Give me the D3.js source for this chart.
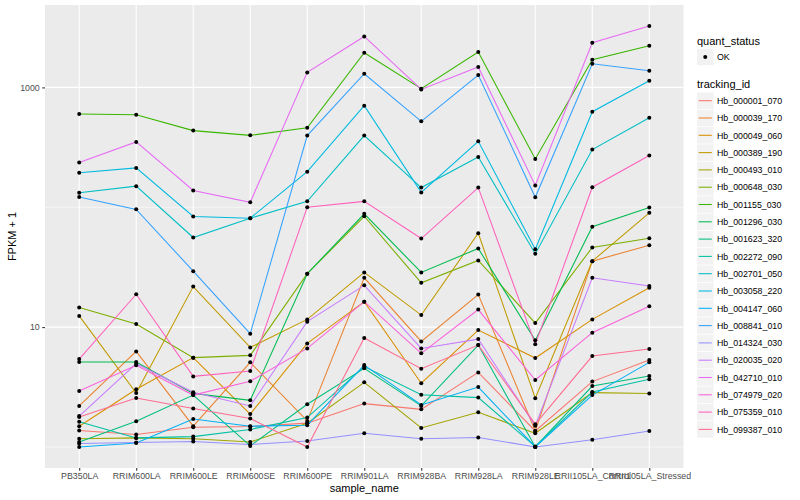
<!DOCTYPE html>
<html>
<head>
<meta charset="utf-8">
<script src="https://cdn.jsdelivr.net/npm/d3@7.9.0/dist/d3.min.js"></script>
<style>
  body { margin: 0; background: #fff; }
  text { font-family: "Liberation Sans", Arial, Helvetica, sans-serif; }
</style>
</head>
<body>
<svg id="chart" width="800" height="500"></svg>
<script>
// samples on the x axis
const samples = ["PB350LA", "RRIM600LA", "RRIM600LE", "RRIM600SE", "RRIM600PE", "RRIM901LA",
  "RRIM928BA", "RRIM928LA", "RRIM928LE", "RRII105LA_Control", "RRII105LA_Stressed"];

const trackingIds = ["Hb_000001_070", "Hb_000039_170", "Hb_000049_060", "Hb_000389_190",
  "Hb_000493_010", "Hb_000648_030", "Hb_001155_030", "Hb_001296_030", "Hb_001623_320",
  "Hb_002272_090", "Hb_002701_050", "Hb_003058_220", "Hb_004147_060", "Hb_008841_010",
  "Hb_014324_030", "Hb_020035_020", "Hb_042710_010", "Hb_074979_020", "Hb_075359_010",
  "Hb_099387_010"];

// FPKM + 1, one array per gene, in sample order
const hb_000001_070 = [1.37, 1.27, 1.46, 1.48, 1.58, 2.30, 2.06, 4.19, 1.36, 3.51, 5.31];
const hb_000039_170 = [2.20, 6.27, 1.49, 5.08, 1.65, 25.8, 7.60, 18.7, 1.36, 35.5, 48.2];
const hb_000049_060 = [1.49, 3.03, 5.56, 1.88, 7.31, 16.3, 3.40, 9.44, 5.52, 11.6, 21.3];
const hb_000389_190 = [12.4, 2.82, 21.8, 6.77, 11.6, 28.6, 12.6, 60.7, 2.55, 35.5, 89.8];
const hb_000493_010 = [1.17, 1.19, 1.17, 1.10, 1.58, 3.46, 1.44, 1.95, 1.30, 2.84, 2.79];
const hb_000648_030 = [14.6, 10.6, 5.56, 5.81, 27.9, 84.1, 23.4, 36.0, 10.8, 46.2, 55.2];
const hb_001155_030 = [600, 592, 436, 398, 461, 1945, 975, 1972, 253, 1702, 2226];
const hb_001296_030 = [5.11, 5.11, 2.80, 2.45, 27.9, 88.1, 28.6, 45.3, 7.75, 68.7, 99.4];
const hb_001623_320 = [1.10, 1.64, 2.71, 1.02, 2.27, 4.53, 2.20, 7.08, 1.00, 3.22, 3.91];
const hb_002272_090 = [1.62, 1.19, 1.22, 1.40, 1.76, 4.68, 2.73, 2.58, 1.01, 2.87, 3.67];
const hb_002701_050 = [132, 150, 55.9, 81, 112, 396, 146, 263, 40.9, 303, 559];
const hb_003058_220 = [194, 213, 83.7, 81, 198, 704, 133, 355, 44.7, 627, 1137];
const hb_004147_060 = [1.00, 1.08, 1.71, 1.49, 1.52, 4.82, 2.24, 3.16, 1.00, 2.71, 5.08];
const hb_008841_010 = [122, 96, 29.3, 8.81, 396, 1300, 521, 1268, 121, 1576, 1377];
const hb_014324_030 = [1.07, 1.09, 1.11, 1.05, 1.12, 1.30, 1.17, 1.20, 1.00, 1.15, 1.36];
const hb_020035_020 = [1.81, 4.95, 2.86, 2.20, 11.1, 22.3, 6.64, 7.94, 1.50, 25.8, 22.0];
const hb_042710_010 = [236, 351, 138, 110, 1334, 2661, 962, 1479, 152, 2358, 3250];
const hb_074979_020 = [2.93, 4.80, 2.71, 3.53, 6.64, 16.3, 6.04, 14.0, 3.62, 8.98, 14.9];
const hb_075359_010 = [5.41, 18.8, 3.88, 4.30, 100, 112, 54.8, 146, 7.18, 147, 270];
const hb_099387_010 = [1.78, 2.56, 2.09, 1.73, 1.00, 8.10, 4.50, 7.08, 1.55, 5.73, 6.56];

const seriesValues = [hb_000001_070, hb_000039_170, hb_000049_060, hb_000389_190, hb_000493_010,
  hb_000648_030, hb_001155_030, hb_001296_030, hb_001623_320, hb_002272_090, hb_002701_050,
  hb_003058_220, hb_004147_060, hb_008841_010, hb_014324_030, hb_020035_020, hb_042710_010,
  hb_074979_020, hb_075359_010, hb_099387_010];

const yTicks = [10, 1000];
const yMinor = [1, 100, 10000];

// ggplot hue palette, 20 levels
const palette = ["#F8766D", "#EA8331", "#D89000", "#C09B00", "#A3A500", "#7CAE00", "#39B600",
  "#00BB4E", "#00BF7D", "#00C1A3", "#00BFC4", "#00BAE0", "#00B0F6", "#35A2FF", "#9590FF",
  "#C77CFF", "#E76BF3", "#FA62DB", "#FF62BC", "#FF6C91"];

const svg = d3.select("#chart");
const panel = { left: 45, right: 683.5, top: 5, bottom: 468 };

const x = d3.scalePoint()
  .domain(samples)
  .range([panel.left, panel.right])
  .padding(0.6);

// log scale with ggplot's 5% expansion
const all = seriesValues.flat();
const lo = Math.log10(d3.min(all)), hi = Math.log10(d3.max(all));
const pad = (hi - lo) * 0.05;
const y = d3.scaleLog()
  .domain([Math.pow(10, lo - pad), Math.pow(10, hi + pad)])
  .range([panel.bottom, panel.top]);

const color = d3.scaleOrdinal().domain(trackingIds).range(palette);

// panel background + grid
svg.append("rect")
  .attr("x", panel.left).attr("y", panel.top)
  .attr("width", panel.right - panel.left).attr("height", panel.bottom - panel.top)
  .attr("fill", "#EBEBEB");

const grid = svg.append("g");
yMinor.filter(v => y(v) >= panel.top && y(v) <= panel.bottom).forEach(v => {
  grid.append("line")
    .attr("x1", panel.left).attr("x2", panel.right)
    .attr("y1", y(v)).attr("y2", y(v))
    .attr("stroke", "#fff").attr("stroke-width", 0.55);
});
yTicks.forEach(v => {
  grid.append("line")
    .attr("x1", panel.left).attr("x2", panel.right)
    .attr("y1", y(v)).attr("y2", y(v))
    .attr("stroke", "#fff").attr("stroke-width", 1.1);
});
samples.forEach(s => {
  grid.append("line")
    .attr("x1", x(s)).attr("x2", x(s))
    .attr("y1", panel.top).attr("y2", panel.bottom)
    .attr("stroke", "#fff").attr("stroke-width", 1.1);
});

// lines
const line = d3.line()
  .x((d, i) => x(samples[i]))
  .y(d => y(d));

svg.append("g").selectAll("path")
  .data(seriesValues)
  .join("path")
  .attr("d", d => line(d))
  .attr("fill", "none")
  .attr("stroke", (d, i) => color(trackingIds[i]))
  .attr("stroke-width", 1.07);

// points
const pts = svg.append("g");
seriesValues.forEach(vals => {
  vals.forEach((v, i) => {
    pts.append("circle")
      .attr("cx", x(samples[i]))
      .attr("cy", y(v))
      .attr("r", 2)
      .attr("fill", "#000");
  });
});

// axes
const xAxis = d3.axisBottom(x).tickSize(2.75).tickPadding(2.5);
const gx = svg.append("g")
  .attr("transform", `translate(0,${panel.bottom})`)
  .call(xAxis);
gx.select(".domain").remove();
gx.selectAll(".tick line").attr("stroke", "#333").attr("stroke-width", 1.07);
gx.selectAll(".tick text").attr("fill", "#4D4D4D").attr("font-size", 8.8)
  .attr("font-family", "Liberation Sans, Arial, sans-serif");

const yAxis = d3.axisLeft(y).tickValues(yTicks).tickFormat(d3.format("d")).tickSize(2.75).tickPadding(2.5);
const gy = svg.append("g")
  .attr("transform", `translate(${panel.left},0)`)
  .call(yAxis);
gy.select(".domain").remove();
gy.selectAll(".tick line").attr("stroke", "#333").attr("stroke-width", 1.07);
gy.selectAll(".tick text").attr("fill", "#4D4D4D").attr("font-size", 8.8)
  .attr("font-family", "Liberation Sans, Arial, sans-serif");

svg.append("text")
  .attr("x", (panel.left + panel.right) / 2).attr("y", 492)
  .attr("text-anchor", "middle").attr("font-size", 11).attr("fill", "#000")
  .text("sample_name");

svg.append("text")
  .attr("transform", `translate(16,${(panel.top + panel.bottom) / 2}) rotate(-90)`)
  .attr("text-anchor", "middle").attr("font-size", 11).attr("fill", "#000")
  .text("FPKM + 1");

// legend
const lg = svg.append("g").attr("transform", "translate(697,0)");
lg.append("text").attr("x", 0).attr("y", 44.5).attr("font-size", 11).text("quant_status");
lg.append("rect").attr("x", 0).attr("y", 48.7).attr("width", 16.5).attr("height", 16.5).attr("fill", "#F2F2F2");
lg.append("circle").attr("cx", 8.25).attr("cy", 57).attr("r", 2).attr("fill", "#000");
lg.append("text").attr("x", 20).attr("y", 60.2).attr("font-size", 8.8).text("OK");

lg.append("text").attr("x", 0).attr("y", 88.3).attr("font-size", 11).text("tracking_id");
const step = 17.3;
trackingIds.forEach((id, i) => {
  const cy = 100.7 + i * step;
  lg.append("rect").attr("x", 0).attr("y", cy - 8.25).attr("width", 16.5).attr("height", 16.5)
    .attr("fill", "#F2F2F2");
  lg.append("line").attr("x1", 1.7).attr("x2", 14.8).attr("y1", cy).attr("y2", cy)
    .attr("stroke", color(id)).attr("stroke-width", 1.07);
  lg.append("text").attr("x", 20).attr("y", cy + 3.2).attr("font-size", 8.8).text(id);
});
</script>
</body>
</html>
